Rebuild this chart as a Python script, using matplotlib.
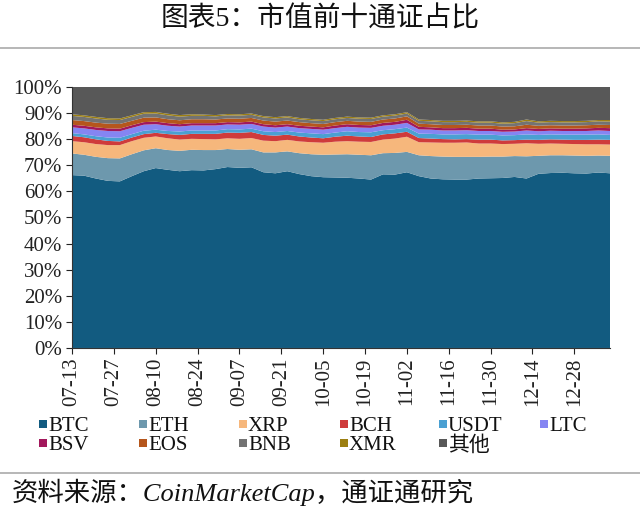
import numpy as np
import matplotlib
matplotlib.use("Agg")
import matplotlib.pyplot as plt
import matplotlib.dates as mdates
from matplotlib.patches import Rectangle
from matplotlib.ticker import PercentFormatter, MultipleLocator
import datetime as dt

plt.rcParams['font.family'] = ['Liberation Serif', 'Noto Sans CJK SC', 'DejaVu Sans']

# dates every 4 days from 2019-07-13 to 2020-01-09
start = dt.date(2019, 7, 13)
dates = [start + dt.timedelta(days=4 * i) for i in range(46)]

names = ['BTC', 'ETH', 'XRP', 'BCH', 'USDT', 'LTC', 'BSV', 'EOS', 'BNB', 'XMR', '其他']

btc = [66.2, 66.0, 64.9, 64.0, 63.8, 65.8, 67.7, 68.9, 68.3, 67.7, 68.1, 68.0, 68.5, 69.3, 69.0, 69.2,
       67.3, 66.9, 67.7, 66.6, 65.8, 65.4, 65.3, 65.2, 64.9, 64.5, 66.5, 66.4, 67.3, 65.8, 64.9, 64.6,
       64.5, 64.5, 64.9, 65.0, 65.1, 65.5, 64.9, 66.7, 67.0, 67.1, 66.9, 66.8, 67.2, 66.9]
eth = [8.3, 8.0, 8.3, 8.7, 8.8, 8.4, 8.0, 7.6, 7.6, 7.8, 7.8, 7.8, 7.3, 6.9, 6.9, 6.9,
       7.6, 8.0, 7.6, 8.0, 8.4, 8.6, 8.8, 9.0, 9.1, 9.3, 8.1, 8.3, 7.8, 8.0, 8.6, 8.7,
       8.7, 8.7, 8.3, 8.3, 8.2, 8.0, 8.5, 6.9, 6.8, 6.7, 6.8, 6.8, 6.5, 6.7]
xrp = [4.7, 4.8, 4.9, 5.0, 5.1, 5.0, 4.8, 4.5, 4.5, 4.3, 4.2, 4.2, 4.1, 4.1, 4.2, 4.3,
       4.5, 4.3, 4.4, 4.5, 4.6, 4.6, 4.9, 5.0, 5.0, 5.1, 5.2, 5.5, 5.8, 5.0, 5.2, 5.3,
       5.4, 5.5, 5.1, 5.0, 4.8, 4.7, 5.0, 4.6, 4.5, 4.4, 4.4, 4.4, 4.3, 4.3]
bch = [2.0, 1.9, 1.8, 1.6, 1.4, 1.4, 1.4, 1.4, 1.6, 1.8, 1.9, 2.0, 2.1, 2.2, 2.3, 2.3,
       2.2, 2.1, 2.0, 1.9, 1.8, 1.7, 1.9, 2.1, 2.0, 1.9, 2.0, 2.0, 1.9, 1.6, 1.5, 1.4,
       1.3, 1.3, 1.5, 1.5, 1.4, 1.4, 1.4, 1.5, 1.6, 1.6, 1.6, 1.7, 1.8, 1.8]
usdt = [1.1, 1.1, 1.2, 1.3, 1.4, 1.3, 1.3, 1.2, 1.2, 1.3, 1.3, 1.3, 1.3, 1.3, 1.3, 1.3,
        1.4, 1.4, 1.4, 1.5, 1.6, 1.6, 1.6, 1.7, 1.7, 1.8, 1.6, 1.6, 1.6, 1.7, 1.8, 1.8,
        1.9, 1.9, 1.9, 1.9, 1.9, 1.9, 2.0, 1.9, 1.9, 1.9, 2.0, 2.0, 2.0, 1.9]
ltc = [2.2, 2.3, 2.4, 2.5, 2.5, 2.4, 2.3, 2.1, 2.0, 1.9, 1.9, 1.9, 1.9, 1.8, 1.8, 1.8,
       1.8, 1.7, 1.7, 1.7, 1.7, 1.7, 1.7, 1.7, 1.7, 1.7, 1.7, 1.7, 1.8, 1.6, 1.6, 1.5,
       1.5, 1.5, 1.4, 1.4, 1.4, 1.4, 1.5, 1.4, 1.4, 1.4, 1.4, 1.4, 1.5, 1.5]
bsv = [1.0, 1.0, 1.0, 1.0, 1.0, 1.0, 1.0, 1.0, 1.0, 0.9, 0.9, 0.9, 0.9, 0.9, 0.9, 0.9,
       0.9, 0.9, 0.9, 0.9, 0.9, 0.9, 1.0, 1.0, 1.0, 1.0, 1.1, 1.1, 1.2, 1.0, 0.9, 0.9,
       0.9, 0.9, 0.9, 0.9, 0.8, 0.8, 0.9, 0.9, 0.9, 0.9, 0.9, 1.0, 1.0, 1.1]
eos = [1.8, 1.8, 1.8, 1.8, 1.8, 1.7, 1.7, 1.6, 1.5, 1.5, 1.5, 1.5, 1.4, 1.4, 1.4, 1.4,
       1.4, 1.4, 1.4, 1.4, 1.3, 1.3, 1.3, 1.3, 1.3, 1.3, 1.3, 1.3, 1.3, 1.2, 1.2, 1.2,
       1.2, 1.2, 1.2, 1.2, 1.2, 1.2, 1.3, 1.2, 1.2, 1.2, 1.2, 1.2, 1.2, 1.2]
bnb = [1.6, 1.6, 1.6, 1.5, 1.5, 1.5, 1.5, 1.5, 1.5, 1.4, 1.3, 1.3, 1.2, 1.2, 1.2, 1.2,
       1.2, 1.2, 1.2, 1.1, 1.1, 1.1, 1.1, 1.1, 1.1, 1.1, 1.1, 1.1, 1.1, 1.1, 1.1, 1.1,
       1.1, 1.1, 1.1, 1.1, 1.1, 1.2, 1.4, 1.2, 1.2, 1.2, 1.2, 1.2, 1.3, 1.3]
xmr = [0.6, 0.6, 0.6, 0.6, 0.6, 0.6, 0.6, 0.6, 0.6, 0.6, 0.6, 0.5, 0.5, 0.5, 0.5, 0.5,
       0.5, 0.5, 0.5, 0.5, 0.5, 0.5, 0.5, 0.5, 0.5, 0.5, 0.5, 0.5, 0.5, 0.5, 0.5, 0.5,
       0.5, 0.5, 0.5, 0.5, 0.5, 0.5, 0.6, 0.5, 0.5, 0.5, 0.5, 0.5, 0.5, 0.6]
others = [10.5, 10.9, 11.5, 12.0, 12.1, 10.9, 9.7, 9.6, 10.3, 10.8, 10.5, 10.6, 10.8, 10.4, 10.5, 10.2,
          11.2, 11.6, 11.2, 11.9, 12.3, 12.6, 11.9, 11.4, 11.7, 11.8, 10.9, 10.5, 9.7, 12.5, 12.7, 13.0,
          13.0, 12.9, 13.2, 13.2, 13.6, 13.4, 12.5, 13.2, 13.0, 13.1, 13.1, 13.0, 12.7, 12.7]

colors = ['#125b80', '#6d98ad', '#f6b77c', '#cf3b3b', '#4aa0d2', '#8585f2',
          '#a2185c', '#b5561c', '#737373', '#9c7f12', '#585858']

series = np.array([btc, eth, xrp, bch, usdt, ltc, bsv, eos, bnb, xmr, others], dtype=float)
shares = series / series.sum(axis=0) * 100

W, H = 640, 514
fig = plt.figure(figsize=(6.4, 5.14), dpi=100)
ax = fig.add_axes([0.1125, 0.323, 0.841, 0.508])

polys = ax.stackplot(dates, *shares, colors=colors, labels=names, linewidth=0)

ax.set_ylim(0, 100)
ax.set_xlim(dates[0], dates[-1])
ax.yaxis.set_major_locator(MultipleLocator(10))
ax.yaxis.set_major_formatter(PercentFormatter(decimals=0))
ticks = [start + dt.timedelta(days=14 * k) for k in range(13)]
ax.set_xticks(ticks)
ax.xaxis.set_major_formatter(mdates.DateFormatter('%m-%d'))
for lbl in ax.get_xticklabels():
    lbl.set_rotation(90)
ax.tick_params(axis='both', labelsize=15, direction='out', length=4, width=0.8, colors='#222222')
ax.tick_params(axis='x', pad=3)
ax.tick_params(axis='y', pad=3)
for s in ['top', 'right']:
    ax.spines[s].set_visible(False)
for s in ['left', 'bottom']:
    ax.spines[s].set_color('#333333')
    ax.spines[s].set_linewidth(0.8)

fig.text(0.5, 0.962, '图表5：市值前十通证占比', ha='center', va='center', fontsize=20,
         color='#111111')
fig.add_artist(plt.Line2D([0, 1], [0.906, 0.906], color='#aaaaaa', lw=1.2))
fig.add_artist(plt.Line2D([0, 1], [0.079, 0.079], color='#aaaaaa', lw=1.2))

# legend: 6 columns x 2 rows, row-major, evenly spaced 100 px
col_x = [39, 139, 239, 340, 439, 540]
row_y = [424, 443]
for i, (name, col) in enumerate(zip(names, colors)):
    r, c = divmod(i, 6)
    x, y = col_x[c], row_y[r]
    fig.add_artist(Rectangle((x / W, 1 - (y + 4) / H), 8 / W, 8 / H,
                             transform=fig.transFigure, facecolor=col, edgecolor='none'))
    fig.text((x + 9) / W, 1 - y / H, name, ha='left', va='center_baseline', fontsize=15,
             color='#111111')

fig.text(0.018, 0.043, '资料来源：CoinMarketCap，通证通研究', ha='left', va='center',
         fontsize=19, style='italic', color='#111111')

fig.savefig('out.png', dpi=100)
